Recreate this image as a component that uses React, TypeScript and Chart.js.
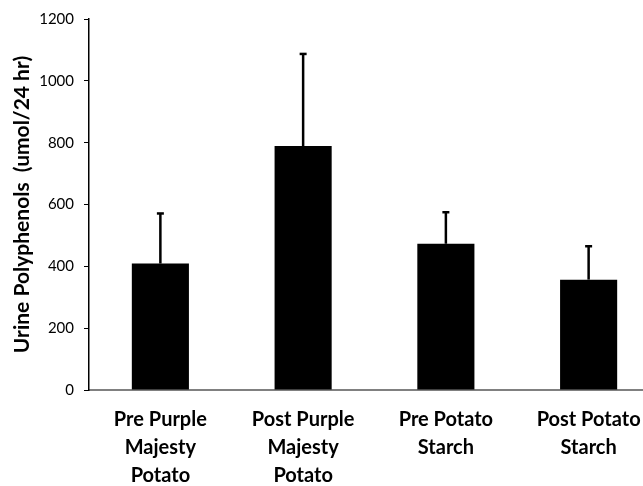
import React, { useEffect, useRef } from "react";
import { Chart, registerables } from "chart.js";

Chart.register(...registerables);

const categories: string[][] = [
  ["Pre Purple", "Majesty", "Potato"],
  ["Post Purple", "Majesty", "Potato"],
  ["Pre Potato", "Starch"],
  ["Post Potato", "Starch"],
];
const means: number[] = [409, 789, 473, 357];
const errors: number[] = [162, 298, 102, 108];
const yTicks: number[] = [0, 200, 400, 600, 800, 1000, 1200];

const FONT = "Lato, 'Open Sans', sans-serif";

const errorBarPlugin = {
  id: "errorBars",
  afterDatasetsDraw(chart: any) {
    const meta = chart.getDatasetMeta(0);
    const yScale = chart.scales.y;
    const ctx = chart.ctx;
    ctx.save();
    ctx.strokeStyle = "#000";
    ctx.lineWidth = 2.5;
    meta.data.forEach((bar: any, i: number) => {
      const x = bar.x;
      const yTop = yScale.getPixelForValue(means[i] + errors[i]);
      const yBase = yScale.getPixelForValue(means[i]);
      ctx.beginPath();
      ctx.moveTo(x, yBase);
      ctx.lineTo(x, yTop);
      ctx.stroke();
      ctx.beginPath();
      ctx.moveTo(x - 3.5, yTop);
      ctx.lineTo(x + 3.5, yTop);
      ctx.stroke();
    });
    ctx.restore();
  },
};

export default function App() {
  const ref = useRef<HTMLCanvasElement | null>(null);
  useEffect(() => {
    if (!ref.current) return;
    const chart = new Chart(ref.current, {
      type: "bar",
      data: {
        labels: categories as any,
        datasets: [
          {
            data: means,
            backgroundColor: "#000000",
            borderWidth: 0,
            categoryPercentage: 1,
            barPercentage: 0.4,
          },
        ],
      },
      options: {
        responsive: false,
        animation: false,
        layout: { padding: { top: 12, right: 10, left: 0, bottom: 0 } },
        plugins: { legend: { display: false }, tooltip: { enabled: false } },
        scales: {
          x: {
            grid: { display: false, drawTicks: false },
            border: { display: true, color: "#808080", width: 2 },
            ticks: {
              color: "#000",
              padding: 16,
              maxRotation: 0,
              autoSkip: false,
              font: { family: FONT, size: 20, weight: "bold", lineHeight: 1.4 },
            },
            afterFit: (s: any) => {
              s.height = 96;
            },
          },
          y: {
            min: 0,
            max: 1200,
            afterBuildTicks: (s: any) => {
              s.ticks = yTicks.map((v) => ({ value: v }));
            },
            grid: {
              drawOnChartArea: false,
              drawTicks: true,
              tickLength: 5,
              color: "#000",
            },
            border: { display: true, color: "#000", width: 1.5 },
            ticks: {
              color: "#000",
              padding: 10,
              font: { family: FONT, size: 15 },
              callback: (v: any) => String(v),
            },
            title: {
              display: true,
              text: "Urine Polyphenols  (umol/24 hr)",
              color: "#000",
              padding: { top: 10, bottom: 0 },
              font: { family: FONT, size: 21, weight: "bold" },
            },
            afterFit: (s: any) => {
              s.width = 89;
            },
          },
        },
      },
      plugins: [errorBarPlugin],
    });
    return () => chart.destroy();
  }, []);
  return (
    <div
      style={{
        position: "absolute",
        left: 0,
        top: 0,
        width: 643,
        height: 486,
        overflow: "hidden",
        background: "#fff",
      }}
    >
      <canvas ref={ref} width={670} height={486} />
    </div>
  );
}
